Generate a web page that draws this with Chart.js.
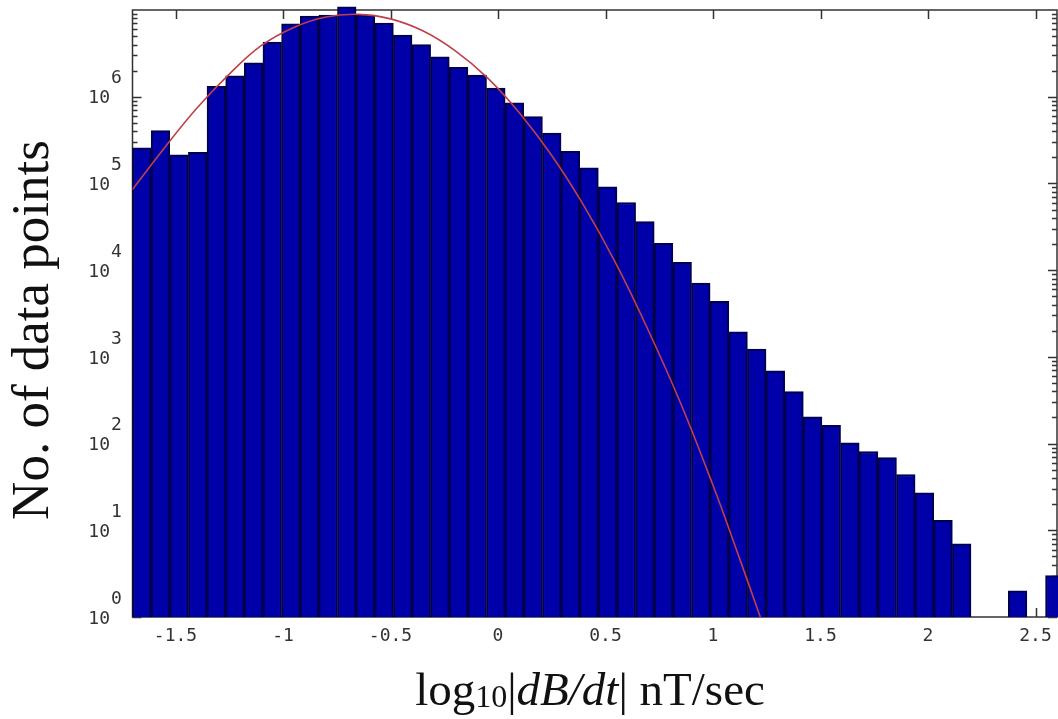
<!DOCTYPE html>
<html>
<head>
<meta charset="utf-8">
<title>dB/dt histogram</title>
<script src="https://cdn.jsdelivr.net/npm/chart.js@4.4.1/dist/chart.umd.min.js"></script>
<style>
  html, body { margin: 0; padding: 0; background: #fff; }
  #wrap { width: 1058px; height: 719px; }
</style>
</head>
<body>
<div id="wrap"><canvas id="histChart" width="1058" height="719"></canvas></div>
<script>
// === DATOS ===
// centros de los bins en log10|dB/dt| (ancho ~0.0867)
const binCenters = [
  -1.6567, -1.5700, -1.4833, -1.3967, -1.3100, -1.2233, -1.1367, -1.0500, -0.9633, -0.8767,
  -0.7900, -0.7033, -0.6167, -0.5300, -0.4433, -0.3567, -0.2700, -0.1833, -0.0967, -0.0100,
   0.0767,  0.1633,  0.2500,  0.3367,  0.4233,  0.5100,  0.5967,  0.6833,  0.7700,  0.8567,
   0.9433,  1.0300,  1.1167,  1.2033,  1.2900,  1.3767,  1.4633,  1.5500,  1.6367,  1.7233,
   1.8100,  1.8967,  1.9833,  2.0700,  2.1567,  2.2433,  2.3300,  2.4167,  2.5033,  2.5900
];
// número de puntos por bin (null = bin vacío)
const binCounts = [
  257000, 407000, 214000, 229000, 1318000, 1738000, 2455000, 4266000, 6918000, 8511000,
  8710000, 10900000, 8710000, 7079000, 5129000, 3981000, 2884000, 2188000, 1778000, 1259000,
  851000, 589000, 380000, 234000, 151000, 91200, 60300, 36300, 20400, 12300,
  7080, 4370, 1950, 1230, 692, 398, 204, 162, 102, 81,
  69, 44, 27, 13, 7, null, null, 2, null, 3
];
// curva de ajuste (gaussiana)
const fitX = [-1.70, -1.55, -1.40, -1.25, -1.10, -0.95, -0.80, -0.65, -0.50, -0.35,
              -0.20, -0.05, 0.10, 0.25, 0.40, 0.55, 0.70, 0.85, 1.00, 1.10, 1.22];
const fitY = [85000, 260000, 740000, 1820000, 3900000, 6300000, 8300000, 8900000, 7900000, 5750000,
              3400000, 1660000, 650000, 210000, 55000, 11700, 2000, 290, 33, 6.9, 1];
// marcas de los ejes
const xTicks = [-1.5, -1, -0.5, 0, 0.5, 1, 1.5, 2, 2.5];
const xTickLabels = ["-1.5", "-1", "-0.5", "0", "0.5", "1", "1.5", "2", "2.5"];
const yTickExps = [0, 1, 2, 3, 4, 5, 6];

const monoFamily = "'DejaVu Sans Mono', 'Liberation Mono', monospace";
const serif = "'Liberation Serif', 'Times New Roman', serif";

// === MARCO, MARCAS Y TÍTULOS ===
const axesPlugin = {
  id: "axesPlugin",
  beforeDatasetsDraw(chart) {
    const { ctx, chartArea: a, scales: { x, y } } = chart;
    ctx.save();
    ctx.strokeStyle = "#333";
    ctx.lineWidth = 1.5;
    ctx.strokeRect(a.left, a.top, a.right - a.left, a.bottom - a.top);

    ctx.beginPath();
    xTicks.forEach(v => {
      const px = Math.round(x.getPixelForValue(v)) + 0.5;
      ctx.moveTo(px, a.bottom); ctx.lineTo(px, a.bottom - 9);
      ctx.moveTo(px, a.top); ctx.lineTo(px, a.top + 9);
    });
    for (let n = 0; n < 7; n++) {
      for (let m = 1; m <= 9; m++) {
        const py = Math.round(y.getPixelForValue(m * Math.pow(10, n))) + 0.5;
        const len = m === 1 ? 9 : 5;
        ctx.moveTo(a.left, py); ctx.lineTo(a.left + len, py);
        ctx.moveTo(a.right, py); ctx.lineTo(a.right - len, py);
      }
    }
    ctx.stroke();
    ctx.restore();
  },
  afterDraw(chart) {
    const { ctx, scales: { y } } = chart;
    ctx.save();
    ctx.fillStyle = "#333";
    ctx.font = "18px " + monoFamily;
    ctx.textBaseline = "middle";

    // etiquetas 10^n del eje y
    yTickExps.forEach(n => {
      const py = y.getPixelForValue(Math.pow(10, n));
      ctx.textAlign = "right";
      ctx.fillText("10", 110, py + 2);
      ctx.textAlign = "left";
      ctx.fillText(String(n), 111, py - 18);
    });

    // título eje y
    ctx.fillStyle = "#111";
    ctx.font = "53px " + serif;
    ctx.textAlign = "center";
    ctx.textBaseline = "alphabetic";
    ctx.save();
    ctx.translate(48, 330);
    ctx.rotate(-Math.PI / 2);
    ctx.fillText("No. of data points", 0, 0);
    ctx.restore();

    // título eje x: log10|dB/dt| nT/sec
    const parts = [
      { t: "log", f: "47px " + serif, dy: 0 },
      { t: "10", f: "32px " + serif, dy: 2 },
      { t: "|", f: "47px " + serif, dy: 0 },
      { t: "dB/dt", f: "italic 47px " + serif, dy: 0 },
      { t: "|", f: "47px " + serif, dy: 0 },
      { t: " nT/sec", f: "47px " + serif, dy: 0 }
    ];
    let total = 0;
    parts.forEach(p => { ctx.font = p.f; p.w = ctx.measureText(p.t).width; total += p.w; });
    let cx = 590 - total / 2;
    ctx.textAlign = "left";
    parts.forEach(p => {
      ctx.font = p.f;
      ctx.fillText(p.t, cx, 705 + p.dy);
      cx += p.w;
    });
    ctx.restore();
  }
};

// === GRÁFICA ===
const ctx = document.getElementById("histChart").getContext("2d");
new Chart(ctx, {
  type: "bar",
  data: {
    datasets: [
      {
        type: "line",
        label: "Ajuste",
        data: fitX.map((v, i) => ({ x: v, y: fitY[i] })),
        borderColor: "#c0404a",
        borderWidth: 1.6,
        pointRadius: 0,
        tension: 0.4,
        fill: false,
        order: 0
      },
      {
        label: "Histograma",
        data: binCenters.map((v, i) => ({ x: v, y: binCounts[i] })),
        backgroundColor: "rgb(0, 0, 168)",
        borderColor: "rgb(0, 0, 78)",
        borderWidth: 2,
        barPercentage: 1,
        categoryPercentage: 1,
        clip: false,
        order: 1
      }
    ]
  },
  options: {
    responsive: false,
    animation: false,
    layout: { padding: { top: 10, right: 1, left: 0, bottom: 0 } },
    plugins: {
      legend: { display: false },
      tooltip: { enabled: false }
    },
    scales: {
      x: {
        type: "linear",
        min: -1.7,
        max: 2.6,
        offset: false,
        grid: { display: false },
        border: { display: false },
        afterBuildTicks: s => { s.ticks = xTicks.map(v => ({ value: v })); },
        afterFit: s => { s.height = 102; },
        ticks: {
          color: "#333",
          font: { family: monoFamily, size: 18 },
          padding: 1,
          maxRotation: 0,
          autoSkip: false,
          callback: (v, i) => xTickLabels[i]
        }
      },
      y: {
        type: "logarithmic",
        min: 1,
        max: 1e7,
        grid: { display: false },
        border: { display: false },
        afterFit: s => { s.width = 132.5; },
        ticks: { display: false }
      }
    }
  },
  plugins: [axesPlugin]
});
</script>
</body>
</html>
